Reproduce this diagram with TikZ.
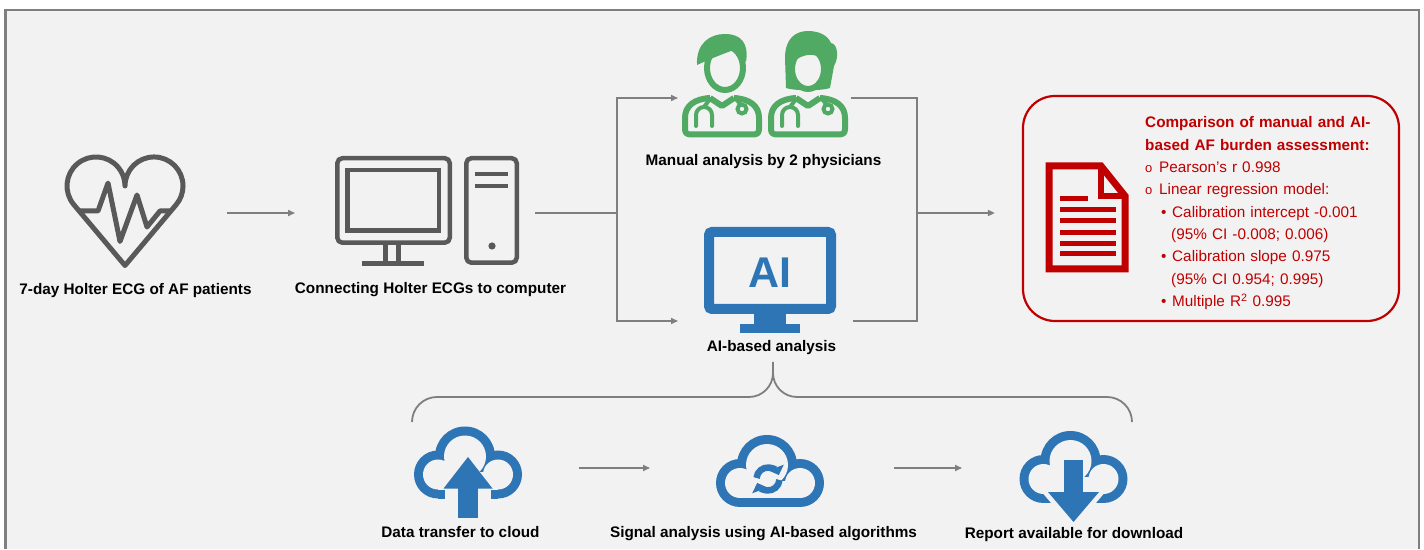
\documentclass[tikz,border=0pt]{standalone}
\usepackage{fontspec}
\setmainfont{Liberation Sans}
\usepackage{tikz}
\usetikzlibrary{arrows.meta}
\definecolor{panelbg}{RGB}{242,242,242}
\definecolor{framegray}{RGB}{127,127,127}
\definecolor{icongray}{RGB}{89,89,89}
\definecolor{docgreen}{RGB}{80,170,100}
\definecolor{aiblue}{RGB}{46,117,182}
\definecolor{repred}{RGB}{192,0,0}
\tikzset{
  steplabel/.style={font=\fontsize{15.3}{18}\selectfont\bfseries, text=black, inner sep=0pt, anchor=base},
  iconbox/.style={inner sep=0pt, outer sep=0pt, minimum height=40pt},
  arrow/.style={-{Triangle[length=7pt, width=6pt]}, line width=1.6pt, color=framegray},
  line/.style={line width=1.6pt, color=framegray},
  grayicon/.style={draw=icongray, line width=4.5pt, line join=round},
  docline/.style={draw=docgreen, line width=6pt, line join=round},
  stetho/.style={draw=docgreen, line width=4pt, line cap=round},
  refresh/.style={draw=aiblue, line width=6.5pt, -{Triangle[length=8pt, width=16pt]}},
  pics/cloud/.style={code={
    \foreach \rs/\rb/\yb/\col in {24/30/-4.5/aiblue, 15/21/4.5/panelbg}{
      \fill[\col] (-30,19.5) circle[radius=\rs];
      \fill[\col] (30,19.5) circle[radius=\rs];
      \fill[\col] (-3,37.5) circle[radius=\rb];
      \fill[\col] (-30,\yb) rectangle (30,22);
    }
  }}
}

\begin{document}
\begin{tikzpicture}[x=1pt, y=1pt]
  \useasboundingbox (0,0) rectangle (1424,549);
  % Panel
  \fill[white] (0,0) rectangle (1424,549);
  \fill[panelbg] (5.5,0) rectangle (1419,539);
  \draw[framegray, line width=2.5pt] (5.5,0) -- (5.5,539) -- (1419,539) -- (1419,0);

  % Icon places
  \node[iconbox, minimum width=120pt] (heart) at (125,336) {};
  \node[iconbox, minimum width=184pt] (pc) at (427,336) {};
  \node[iconbox, minimum width=166pt] (docs) at (765,451) {};
  \node[iconbox, minimum width=132pt] (ai) at (770,228) {};
  \node[iconbox, minimum width=110pt] (upcloud) at (470,81) {};
  \node[iconbox, minimum width=108pt] (synccloud) at (770,81) {};
  \node[iconbox, minimum width=111pt] (downcloud) at (1073.5,81) {};
  \coordinate (split) at (617,336);
  \coordinate (merge) at (917,336);

  % Heart with ECG
  \draw[grayicon, line width=5pt] (125,283.5) -- (73.8,344.4) arc[start angle=220, end angle=0, radius=29]
    arc[start angle=180, end angle=-40, radius=29] -- cycle;
  \draw[grayicon, line width=5pt] (79,338) -- (98,338) -- (108,366) -- (120,307.5) -- (137,354) -- (147,322) -- (160,338) -- (171,338);

  % Computer
  \draw[grayicon, rounded corners=5pt] (337.3,306.3) rectangle (449.8,390.8);
  \draw[grayicon, line join=miter] (347.3,318.3) rectangle (438.8,378.8);
  \draw[grayicon] (385.5,304) -- (385.5,287) (398.5,304) -- (398.5,287);
  \draw[grayicon] (362,285.5) -- (424,285.5);
  \draw[grayicon, rounded corners=5pt] (466.3,286.3) rectangle (516.8,390.8);
  \draw[grayicon] (475,375) -- (508,375) (475,363) -- (508,363);
  \fill[icongray] (492,303) circle[radius=3.6];

  % Physicians
  \begin{scope}[shift={(722,411)}]
    \draw[docline] (-12,40) .. controls (-28,39) and (-37,32) .. (-37,20) -- (-37,9) .. controls (-37,5) and (-35,3.5) .. (-31,3.5)
      -- (31,3.5) .. controls (35,3.5) and (37,5) .. (37,9) -- (37,20) .. controls (37,32) and (28,39) .. (12,40);
    \draw[docline] (-12,40) -- (0,32) -- (12,40);
    \draw[docline] (3,70) ellipse[x radius=18, y radius=22];
    \fill[docgreen] (-25,73) .. controls (-26,95) and (-12,104) .. (3,104) .. controls (19,104) and (27,95) .. (24,76)
      .. controls (19,82) and (15,86) .. (12,88) .. controls (0,84) and (-14,78) .. (-25,73) -- cycle;
    \draw[stetho] (-12,39) -- (-18,31);
    \draw[stetho] (-26,12) -- (-26,23) arc[start angle=180, end angle=0, radius=8] -- (-10,12);
    \draw[stetho] (14,39) -- (19,33);
    \draw[stetho] (20,29) circle[radius=4.5];
  \end{scope}
  \begin{scope}[shift={(808,411)}]
    \fill[docgreen] (-22,50) -- (-23,80) .. controls (-23,99) and (-13,107) .. (0,107) .. controls (12,107) and (20,102) .. (23,95)
      .. controls (30,94) and (31,80) .. (26,72) -- (22,50) .. controls (14,47) and (-14,47) .. (-22,50) -- cycle;
    \draw[docline] (-12,40) .. controls (-28,39) and (-37,32) .. (-37,20) -- (-37,9) .. controls (-37,5) and (-35,3.5) .. (-31,3.5)
      -- (31,3.5) .. controls (35,3.5) and (37,5) .. (37,9) -- (37,20) .. controls (37,32) and (28,39) .. (12,40);
    \draw[docline] (-12,40) -- (0,32) -- (12,40);
    \filldraw[fill=panelbg, docline] (0,69) ellipse[x radius=16, y radius=20];
    \fill[docgreen] (-17,74) .. controls (-15,90) and (-4,96) .. (6,95) .. controls (12,94) and (16,88) .. (17,76)
      .. controls (10,84) and (-2,88) .. (-17,74) -- cycle;
    \draw[stetho] (-12,39) -- (-18,31);
    \draw[stetho] (-26,12) -- (-26,23) arc[start angle=180, end angle=0, radius=8] -- (-10,12);
    \draw[stetho] (14,39) -- (19,33);
    \draw[stetho] (20,29) circle[radius=4.5];
  \end{scope}

  % AI screen
  \draw[aiblue, line width=10pt, rounded corners=3pt] (709,240) rectangle (831,317);
  \fill[aiblue] (754,225) rectangle (786,235);
  \fill[aiblue] (740,216) rectangle (800,225);
  \node[font=\fontsize{43}{43}\selectfont\bfseries, text=aiblue, inner sep=0pt] (aitext) at (770,276.5) {AI};

  % Result box
  \node[draw=repred, line width=2.2pt, rounded corners=32pt, minimum width=376pt, minimum height=225pt, inner sep=0pt] (report) at (1211,340.5) {};
  \draw[repred, line width=7pt, line join=miter] (1049,280) -- (1049,383) -- (1101,383) -- (1125,353) -- (1125,280) -- cycle;
  \draw[repred, line width=6pt] (1101,383) -- (1101,353) -- (1125,353);
  \draw[repred, line width=5pt] (1060,350) -- (1088,350);
  \foreach \y in {339,328,316.7,305.7,295}
    \draw[repred, line width=5pt] (1060,\y) -- (1116,\y);
  \node[anchor=base west, inner sep=0pt, text width=250pt, align=left, text=repred, font=\fontsize{15.3}{22.3}\selectfont] (summary) at (1145,421) {%
    \textbf{Comparison of manual and AI-}\\
    \textbf{based AF burden assessment:}\\
    \makebox[14pt][l]{\fontsize{13}{13}\selectfont o}Pearson’s r 0.998\\
    \makebox[14pt][l]{\fontsize{13}{13}\selectfont o}Linear regression model:\\
    \hspace*{16pt}\makebox[11pt][l]{\textbullet}Calibration intercept -0.001\\
    \hspace*{26pt}(95\% CI -0.008; 0.006)\\
    \hspace*{16pt}\makebox[11pt][l]{\textbullet}Calibration slope 0.975\\
    \hspace*{26pt}(95\% CI 0.954; 0.995)\\
    \hspace*{16pt}\makebox[11pt][l]{\textbullet}Multiple R\textsuperscript{2} 0.995};

  % Clouds
  \begin{scope}[shift={(468,55)}]
    \pic {cloud};
    \fill[panelbg] (-23,-6) rectangle (23,6);
    \fill[aiblue] (-10,-24) rectangle (10,6);
    \fill[aiblue] (-24.5,5.5) -- (24.5,5.5) -- (0,37) -- cycle;
  \end{scope}
  \begin{scope}[shift={(770,46.5)}]
    \pic {cloud};
    \draw[refresh] (-2,23.5) ++(175:11.5) arc[start angle=175, end angle=20, radius=11.5];
    \draw[refresh] (-2,23.5) ++(355:11.5) arc[start angle=355, end angle=200, radius=11.5];
  \end{scope}
  \begin{scope}[shift={(1073.5,50.5)}]
    \pic {cloud};
    \fill[panelbg] (-33,8) -- (33,8) -- (0,-31) -- cycle;
    \fill[aiblue] (-9.5,6) rectangle (9.5,38.5);
    \fill[aiblue] (-25.5,6.5) -- (25.5,6.5) -- (0,-23.5) -- cycle;
  \end{scope}

  % Labels
  \node[steplabel] (heartlab) at (135.5,254) {7-day Holter ECG of AF patients};
  \node[steplabel] (pclab) at (430.5,255) {Connecting Holter ECGs to computer};
  \node[steplabel] (docslab) at (763.5,383) {Manual analysis by 2 physicians};
  \node[steplabel] (ailab) at (771.5,197) {AI-based analysis};
  \node[steplabel] (uplab) at (460.5,12) {Data transfer to cloud};
  \node[steplabel] (synclab) at (763.5,12) {Signal analysis using AI-based algorithms};
  \node[steplabel] (downlab) at (1074,11) {Report available for download};

  % Connectors
  \draw[arrow, shorten <=42pt, shorten >=40pt] (heart.east) -- (pc.west);
  \draw[line, shorten <=16pt] (pc.east) -- (split);
  \draw[arrow, shorten >=4pt] (split) |- (docs.west);
  \draw[arrow, shorten >=26pt] (split) |- (ai.west);
  \draw[line, shorten <=3pt, shorten >=17pt] (docs.east) -| (merge) |- (ai.east);
  \draw[arrow, shorten >=27pt] (merge) -- (merge -| report.west);
  \draw[arrow, shorten <=54pt, shorten >=66pt] (upcloud.east) -- (synccloud.west);
  \draw[arrow, shorten <=70pt, shorten >=56pt] (synccloud.east) -- (downcloud.west);

  % Brace
  \draw[line, line width=1.8pt] (412,127) arc[start angle=180, end angle=90, radius=25] -- (749,152)
    arc[start angle=-90, end angle=0, radius=24] -- (773,187);
  \draw[line, line width=1.8pt] (773,176) arc[start angle=180, end angle=270, radius=24] -- (1107,152)
    arc[start angle=90, end angle=0, radius=25];
\end{tikzpicture}
\end{document}
